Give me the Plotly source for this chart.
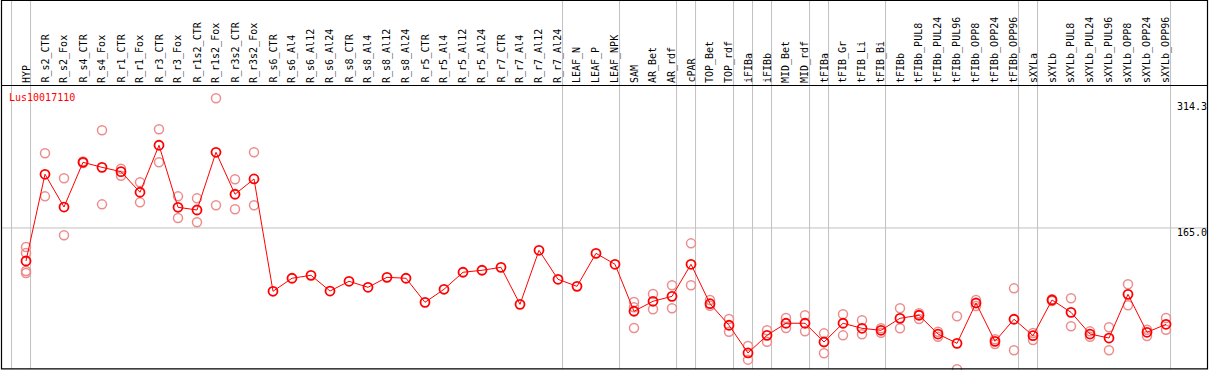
import plotly.graph_objects as go

# ---------------- data ----------------
gene_id = "Lus10017110"

categories = [
    "HYP", "R_s2_CTR", "R_s2_Fox", "R_s4_CTR", "R_s4_Fox", "R_r1_CTR", "R_r1_Fox",
    "R_r3_CTR", "R_r3_Fox", "R_r1s2_CTR", "R_r1s2_Fox", "R_r3s2_CTR", "R_r3s2_Fox",
    "R_s6_CTR", "R_s6_Al4", "R_s6_Al12", "R_s6_Al24", "R_s8_CTR", "R_s8_Al4",
    "R_s8_Al12", "R_s8_Al24", "R_r5_CTR", "R_r5_Al4", "R_r5_Al12", "R_r5_Al24",
    "R_r7_CTR", "R_r7_Al4", "R_r7_Al12", "R_r7_Al24", "LEAF_N", "LEAF_P", "LEAF_NPK",
    "SAM", "AR_Bet", "AR_rdf", "cPAR", "TOP_Bet", "TOP_rdf", "iFIBa", "iFIBb",
    "MID_Bet", "MID_rdf", "tFIBa", "tFIB_Gr", "tFIB_Li", "tFIB_Bi", "tFIBb",
    "tFIBb_PUL8", "tFIBb_PUL24", "tFIBb_PUL96", "tFIBb_OPP8", "tFIBb_OPP24",
    "tFIBb_OPP96", "sXYLa", "sXYLb", "sXYLb_PUL8", "sXYLb_PUL24", "sXYLb_PUL96",
    "sXYLb_OPP8", "sXYLb_OPP24", "sXYLb_OPP96",
]

expr_mean = [
    127.0, 226.8, 189.1, 240.6, 234.8, 229.8, 206.1, 260.2, 188.8, 185.7, 252.1,
    203.8, 221.4, 92.1, 107.1, 110.5, 92.4, 103.6, 96.7, 108.2, 107.1, 79.4, 94.4,
    114.0, 116.3, 119.7, 77.1, 139.3, 105.9, 97.8, 135.8, 123.2, 69.1, 80.6, 86.3,
    123.2, 77.8, 53.0, 21.1, 41.4, 55.3, 55.3, 33.7, 55.3, 49.5, 47.2, 61.0, 64.5,
    42.9, 32.2, 78.6, 34.5, 59.9, 41.0, 82.1, 67.9, 42.9, 38.3, 88.6, 44.9, 54.1,
]

expr_reps = [
    [143.1, 136.2, 115.5, 113.2], [251.0, 201.4], [222.2, 156.6], [241.5, 239.7],
    [277.4, 192.2], [233.2, 225.2], [217.6, 194.5], [278.6, 240.6], [201.4, 176.5],
    [199.1, 171.5], [314.3, 191.1], [221.0, 186.5], [252.1, 191.1],
    [], [], [], [], [], [], [], [], [], [], [], [], [], [], [], [], [], [], [],
    [79.8, 73.7, 49.8], [89.0, 71.4], [99.0, 72.5], [147.3, 99.0], [82.1, 75.5],
    [60.2, 45.6], [29.1, 13.4], [47.2, 34.1], [61.4, 49.8], [64.5, 46.0],
    [43.7, 20.7], [65.6, 41.4], [58.7, 42.6], [49.5, 44.4], [72.5, 49.5],
    [66.8, 60.2], [45.6, 39.8], [63.3, 2.3], [82.1, 75.2], [36.8, 31.4],
    [95.5, 24.2], [44.1, 36.0], [82.9, 80.9], [84.0, 51.8], [46.0, 39.8],
    [50.7, 24.2], [100.2, 76.0], [47.9, 40.6], [61.4, 47.9],
]

group_ends = ["HYP", "R_r7_Al24", "LEAF_NPK", "AR_rdf", "cPAR", "TOP_rdf", "iFIBa",
              "iFIBb", "MID_rdf", "tFIBa", "tFIB_Bi", "tFIBb_OPP96", "sXYLa",
              "sXYLb_OPP96"]

y_tick_vals = [314.3, 165.0, 0]
y_tick_text = ["314.3", "165.0", "0"]
y_grid_vals = [165.0]

# ---------------- layout geometry ----------------
W, H = 1209, 370
FIRST_PX, STEP_PX = 26.0, 19.0          # pixel of first category, spacing
ZERO_PX, PX_PER_UNIT = 371.3, 0.8687    # pixel (from top) of value 0, scale

x_range = [-FIRST_PX / STEP_PX, (W - FIRST_PX) / STEP_PX]
y_range = [(ZERO_PX - H) / PX_PER_UNIT, ZERO_PX / PX_PER_UNIT]


def py(p):  # pixel from top -> paper y
    return 1 - p / H


def pxp(p):  # pixel from left -> paper x
    return p / W


FONT = "DejaVu Sans Mono"
xs = list(range(len(categories)))

rep_x, rep_y = [], []
for i, reps in enumerate(expr_reps):
    for v in reps:
        rep_x.append(i)
        rep_y.append(v)

fig = go.Figure()
fig.add_trace(go.Scatter(
    x=rep_x, y=rep_y, mode="markers",
    marker=dict(symbol="circle-open", size=9, color="rgb(236,140,140)",
                line=dict(width=1.5, color="rgb(236,140,140)")),
    hoverinfo="skip", showlegend=False,
))
fig.add_trace(go.Scatter(
    x=xs, y=expr_mean, mode="lines+markers",
    line=dict(color="#ff0000", width=1),
    marker=dict(symbol="circle-open", size=9, color="#ff0000",
                line=dict(width=1.8, color="#ff0000")),
    showlegend=False,
))

shapes = []
# vertical group separators (full height, through header)
boundaries = [-1] + [categories.index(n) for n in group_ends]
for b in boundaries:
    shapes.append(dict(type="line", xref="x", yref="paper", x0=b + 0.24, x1=b + 0.24,
                       y0=py(369), y1=1, line=dict(color="#c0c0c0", width=1),
                       layer="below"))
# horizontal grid line(s)
for gv in y_grid_vals:
    shapes.append(dict(type="line", xref="paper", yref="y", x0=pxp(1.5), x1=pxp(1207.5),
                       y0=gv, y1=gv, line=dict(color="#c0c0c0", width=1), layer="below"))
# frame + header separator
shapes.append(dict(type="rect", xref="paper", yref="paper", x0=pxp(1.5), x1=pxp(1207.5),
                   y0=py(368.8), y1=py(0.5), line=dict(color="black", width=1.2)))
shapes.append(dict(type="line", xref="paper", yref="paper", x0=pxp(1.5), x1=pxp(1207.5),
                   y0=py(85.5), y1=py(85.5), line=dict(color="black", width=1.2)))

annotations = []
for i, c in enumerate(categories):
    annotations.append(dict(x=i, xref="x", y=py(84), yref="paper", text=c,
                            textangle=-90, xanchor="center", yanchor="bottom",
                            showarrow=False, borderpad=0,
                            font=dict(family=FONT, size=10, color="black")))
annotations.append(dict(x=pxp(8), xref="paper", y=py(97.5), yref="paper", text=gene_id,
                        xanchor="left", yanchor="middle", showarrow=False, borderpad=0,
                        font=dict(family=FONT, size=10, color="#ff0000")))
tick_shift = {"314.3": -8.5, "165.0": -5, "0": 9.5}
for v, t in zip(y_tick_vals, y_tick_text):
    annotations.append(dict(x=pxp(1176), xref="paper", y=v, yref="y", text=t,
                            xanchor="left", yanchor="middle", yshift=tick_shift[t],
                            showarrow=False, borderpad=0,
                            font=dict(family=FONT, size=10, color="black")))

fig.update_layout(
    width=W, height=H, autosize=False,
    margin=dict(l=0, r=0, t=0, b=0, pad=0),
    paper_bgcolor="white", plot_bgcolor="white",
    xaxis=dict(range=x_range, visible=False, fixedrange=True),
    yaxis=dict(range=y_range, visible=False, fixedrange=True),
    shapes=shapes, annotations=annotations,
)

fig.write_html(
    "out.html",
    config={"displayModeBar": False},
    post_script="document.body.style.margin='0';document.body.style.padding='0';"
                "document.body.style.overflow='hidden';",
)
